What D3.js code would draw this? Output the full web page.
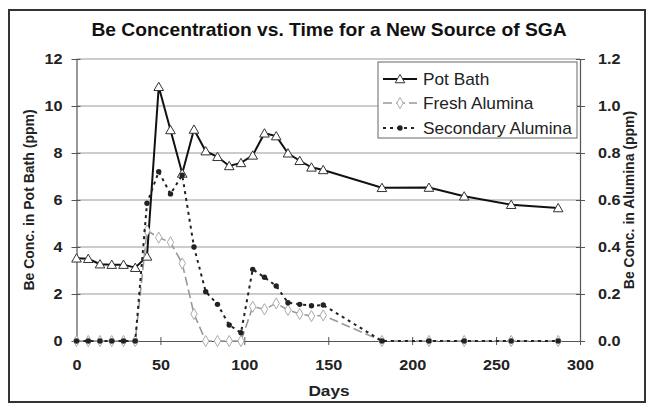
<!DOCTYPE html>
<html>
<head>
<meta charset="utf-8">
<script src="https://d3js.org/d3.v7.min.js"></script>
<style>
  body { margin: 0; background: #fff; }
  text { font-family: Arial, "Liberation Sans", sans-serif; }
</style>
</head>
<body>
<div id="my_dataviz"></div>
<script>
// data
var days = [0, 7, 14, 21, 28, 35, 42, 49, 56, 63, 70, 77, 84, 91, 98, 105, 112, 119, 126, 133, 140, 147, 182, 210, 231, 259, 287];
var potBath = [3.52, 3.5, 3.27, 3.25, 3.25, 3.12, 3.6, 10.82, 8.98, 7.13, 9.0, 8.08, 7.84, 7.45, 7.58, 7.9, 8.84, 8.72, 7.99, 7.67, 7.39, 7.28, 6.52, 6.53, 6.16, 5.8, 5.66];
var freshAlumina = [0, 0, 0, 0, 0, 0, 0.47, 0.44, 0.42, 0.33, 0.115, 0, 0, 0, 0, 0.146, 0.135, 0.16, 0.132, 0.115, 0.106, 0.109, 0, 0, 0, 0, 0];
var secondaryAlumina = [0, 0, 0, 0, 0, 0, 0.586, 0.72, 0.626, 0.706, 0.40, 0.21, 0.156, 0.068, 0.035, 0.305, 0.271, 0.234, 0.163, 0.156, 0.15, 0.153, 0, 0, 0, 0, 0];
var xTicks = [0, 50, 100, 150, 200, 250, 300];
var yLeftTicks = [0, 2, 4, 6, 8, 10, 12];
var yRightTicks = [0, 0.2, 0.4, 0.6, 0.8, 1.0, 1.2];
var seriesNames = ["Pot Bath", "Fresh Alumina", "Secondary Alumina"];

var W = 649, H = 408;
var plot = {left: 76.5, right: 580, top: 59, bottom: 341};
var stretch = 1.08; // the source text is a little wide

var svg = d3.select("#my_dataviz")
  .append("svg")
    .attr("width", W)
    .attr("height", H);

// outer chart border
svg.append("rect")
  .attr("x", 9).attr("y", 10)
  .attr("width", 636).attr("height", 392)
  .attr("fill", "#fff")
  .attr("stroke", "#333")
  .attr("stroke-width", 2);

var x = d3.scaleLinear().domain([0, 300]).range([plot.left, plot.right]);
var yL = d3.scaleLinear().domain([0, 12]).range([plot.bottom, plot.top]);
var yR = d3.scaleLinear().domain([0, 1.2]).range([plot.bottom, plot.top]);

// gridlines
svg.append("g")
  .selectAll("line")
  .data(yLeftTicks.slice(1))
  .enter()
  .append("line")
    .attr("x1", plot.left).attr("x2", plot.right)
    .attr("y1", function(d) { return yL(d); })
    .attr("y2", function(d) { return yL(d); })
    .attr("stroke", "#999")
    .attr("stroke-width", 1);

// axes
function styleAxis(g) {
  g.select(".domain").attr("stroke", "#555").attr("stroke-width", 1.2);
  g.selectAll(".tick line").attr("stroke", "#555");
  g.selectAll(".tick text")
    .attr("fill", "#222")
    .style("font-size", "15px")
    .style("font-weight", "bold");
}

var xAxis = svg.append("g")
  .attr("transform", "translate(0," + plot.bottom + ")")
  .call(d3.axisBottom(x).tickValues(xTicks).tickSize(4).tickSizeOuter(0).tickPadding(14));
styleAxis(xAxis);
xAxis.selectAll(".tick line").attr("y1", -4);
xAxis.selectAll(".tick text").attr("transform", "scale(" + stretch + ",1)");

var yAxisL = svg.append("g")
  .attr("transform", "translate(" + plot.left + ",0)")
  .call(d3.axisLeft(yL).tickValues(yLeftTicks).tickSize(5).tickSizeOuter(0).tickPadding(10));
styleAxis(yAxisL);
yAxisL.selectAll(".tick line").attr("x1", 4);
yAxisL.selectAll(".tick text")
  .attr("x", -14 / stretch)
  .attr("transform", "scale(" + stretch + ",1)");

var yAxisR = svg.append("g")
  .attr("transform", "translate(" + plot.right + ",0)")
  .call(d3.axisRight(yR).tickValues(yRightTicks).tickFormat(d3.format(".1f")).tickSize(5).tickSizeOuter(0).tickPadding(13));
styleAxis(yAxisR);
yAxisR.selectAll(".tick line").attr("x1", -4);
yAxisR.selectAll(".tick text")
  .attr("x", 18 / stretch)
  .attr("transform", "scale(" + stretch + ",1)");

// build points
var potData = days.map(function(d, i) { return {day: d, v: potBath[i]}; });
var freshData = days.map(function(d, i) { return {day: d, v: freshAlumina[i]}; });
var secData = days.map(function(d, i) { return {day: d, v: secondaryAlumina[i]}; });

var lineL = d3.line()
  .x(function(d) { return x(d.day); })
  .y(function(d) { return yL(d.v); });
var lineR = d3.line()
  .x(function(d) { return x(d.day); })
  .y(function(d) { return yR(d.v); });

var triangle = d3.symbol().type(d3.symbolTriangle).size(40);
var diamond = d3.symbol().type(d3.symbolDiamond).size(36);

// Pot Bath
svg.append("path")
  .attr("d", lineL(potData))
  .attr("fill", "none")
  .attr("stroke", "#111")
  .attr("stroke-width", 2);
svg.selectAll("potDots")
  .data(potData)
  .enter()
  .append("path")
    .attr("d", triangle)
    .attr("transform", function(d) { return "translate(" + x(d.day) + "," + (yL(d.v) + 1) + ")"; })
    .attr("fill", "#fff")
    .attr("stroke", "#333")
    .attr("stroke-width", 1);

// Fresh Alumina
svg.append("path")
  .attr("d", lineR(freshData))
  .attr("fill", "none")
  .attr("stroke", "#999")
  .attr("stroke-width", 1.6)
  .attr("stroke-dasharray", "9,4");
svg.selectAll("freshDots")
  .data(freshData)
  .enter()
  .append("path")
    .attr("d", diamond)
    .attr("transform", function(d) { return "translate(" + x(d.day) + "," + yR(d.v) + ")"; })
    .attr("fill", "#fff")
    .attr("stroke", "#aaa")
    .attr("stroke-width", 1);

// Secondary Alumina
svg.append("path")
  .attr("d", lineR(secData))
  .attr("fill", "none")
  .attr("stroke", "#222")
  .attr("stroke-width", 2)
  .attr("stroke-dasharray", "3,4");
svg.selectAll("secDots")
  .data(secData)
  .enter()
  .append("circle")
    .attr("cx", function(d) { return x(d.day); })
    .attr("cy", function(d) { return yR(d.v); })
    .attr("r", 2.7)
    .attr("fill", "#222");

// legend
var lg = svg.append("g");
lg.append("rect")
  .attr("x", 378).attr("y", 62)
  .attr("width", 199).attr("height", 76)
  .attr("fill", "#fff")
  .attr("stroke", "#666")
  .attr("stroke-width", 1);
var legendY = [79, 103, 128];
var legendStroke = ["#111", "#999", "#222"];
var legendDash = [null, "9,4", "3,4"];
var legendWidth = [2, 1.6, 2];
seriesNames.forEach(function(name, i) {
  lg.append("line")
    .attr("x1", 383).attr("x2", 417)
    .attr("y1", legendY[i]).attr("y2", legendY[i])
    .attr("stroke", legendStroke[i])
    .attr("stroke-width", legendWidth[i])
    .attr("stroke-dasharray", legendDash[i]);
  if (i == 0) {
    lg.append("path").attr("d", triangle)
      .attr("transform", "translate(400," + (legendY[i] + 1) + ")")
      .attr("fill", "#fff").attr("stroke", "#333");
  } else if (i == 1) {
    lg.append("path").attr("d", diamond)
      .attr("transform", "translate(400," + legendY[i] + ")")
      .attr("fill", "#fff").attr("stroke", "#aaa");
  } else {
    lg.append("circle").attr("cx", 400).attr("cy", legendY[i]).attr("r", 2.7).attr("fill", "#222");
  }
  lg.append("text")
    .attr("transform", "translate(423," + legendY[i] + ") scale(" + stretch + ",1)")
    .attr("dy", "0.36em")
    .attr("fill", "#222")
    .style("font-size", "16px")
    .text(name);
});

// title and axis titles
svg.append("text")
  .attr("transform", "translate(329,36) scale(1.1,1)")
  .attr("text-anchor", "middle")
  .attr("fill", "#111")
  .style("font-size", "17.5px")
  .style("font-weight", "bold")
  .text("Be Concentration vs. Time for a New Source of SGA");

svg.append("text")
  .attr("transform", "translate(329,396) scale(1.15,1)")
  .attr("text-anchor", "middle")
  .attr("fill", "#222")
  .style("font-size", "15px")
  .style("font-weight", "bold")
  .text("Days");

svg.append("text")
  .attr("transform", "translate(34,200) rotate(-90)")
  .attr("text-anchor", "middle")
  .attr("fill", "#222")
  .style("font-size", "14px")
  .style("font-weight", "bold")
  .text("Be Conc. in Pot Bath (ppm)");

svg.append("text")
  .attr("transform", "translate(634,200) rotate(-90)")
  .attr("text-anchor", "middle")
  .attr("fill", "#222")
  .style("font-size", "14px")
  .style("font-weight", "bold")
  .text("Be Conc. in Alumina (ppm)");
</script>
</body>
</html>
